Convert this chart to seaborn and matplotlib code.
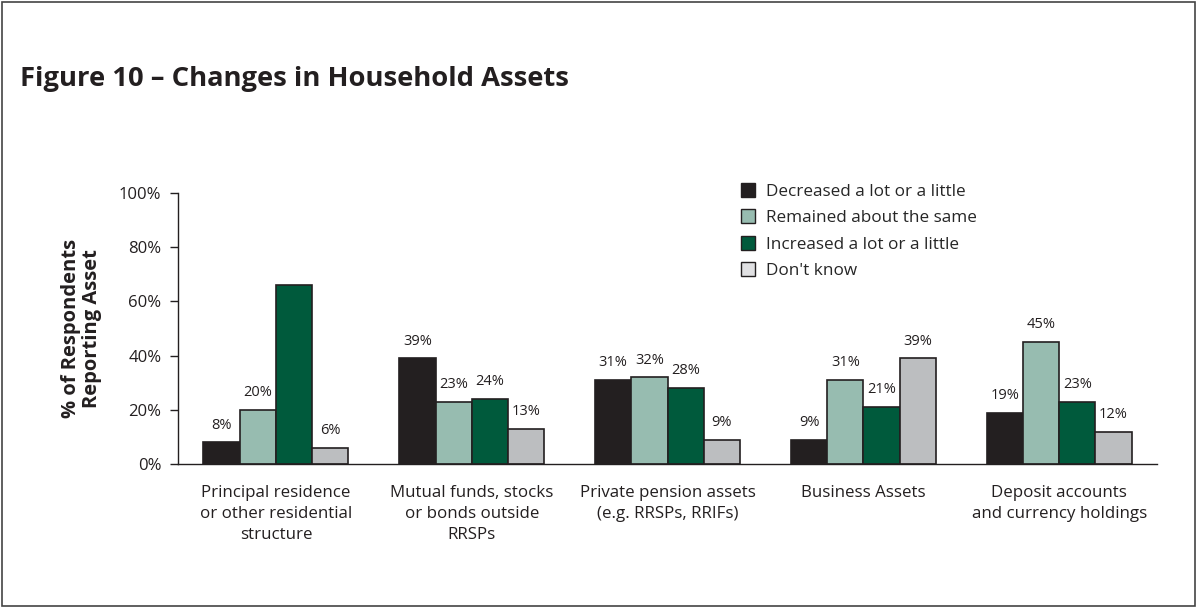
import matplotlib
matplotlib.use("Agg")
import matplotlib.pyplot as plt
import seaborn as sns
import pandas as pd
from matplotlib.lines import Line2D
from matplotlib.patches import Rectangle

categories = [
    "Principal residence\nor other residential\nstructure",
    "Mutual funds, stocks\nor bonds outside\nRRSPs",
    "Private pension assets\n(e.g. RRSPs, RRIFs)",
    "Business Assets",
    "Deposit accounts\nand currency holdings",
]
series = [
    "Decreased a lot or a little",
    "Remained about the same",
    "Increased a lot or a little",
    "Don't know",
]
decreased = [8, 39, 31, 9, 19]
same = [20, 23, 32, 31, 45]
increased = [66, 24, 28, 21, 23]
dont_know = [6, 13, 9, 39, 12]
# Value labels shown above each bar (the tall residence bar carries none)
show_label = [
    [True, True, True, True, True],
    [True, True, True, True, True],
    [False, True, True, True, True],
    [True, True, True, True, True],
]
yticks = [0, 20, 40, 60, 80, 100]

colors = ["#231f20", "#97bcb0", "#005a3c", "#bcbec0"]
edge = "#231f20"

sns.set_theme(style="white")
plt.rcParams["font.family"] = ["Open Sans", "DejaVu Sans"]

rows = []
for s, vals in zip(series, [decreased, same, increased, dont_know]):
    for c, v in zip(categories, vals):
        rows.append({"category": c, "series": s, "value": v})
df = pd.DataFrame(rows)

fig = plt.figure(figsize=(11.97, 6.08), dpi=100)
ax = fig.add_axes([0.1487, 0.2368, 0.8180, 0.4457])

sns.barplot(data=df, x="category", y="value", hue="series", order=categories,
            hue_order=series, palette=colors, width=0.74, saturation=1,
            edgecolor=edge, linewidth=1.2, ax=ax, legend=False)

for cont, vals, flags in zip(ax.containers, [decreased, same, increased, dont_know], show_label):
    labels = [f"{v}%" if f else "" for v, f in zip(vals, flags)]
    ax.bar_label(cont, labels=labels, padding=7, fontsize=10.5, color="#231f20")

ax.set_xlim(-0.5, len(categories) - 0.5)
ax.set_ylim(0, 100)
ax.set_yticks(yticks)
ax.set_yticklabels([f"{t}%" for t in yticks], fontsize=12, color="#231f20")
ax.set_xticks(range(len(categories)))
ax.set_xticklabels(categories, fontsize=12.2, color="#231f20", linespacing=1.42)
ax.set_xticks([i - 0.5 for i in range(len(categories) + 1)], minor=True)
ax.tick_params(axis="x", which="major", length=0, pad=15)
ax.tick_params(axis="x", which="minor", length=6, width=1, color=edge, direction="out")
ax.tick_params(axis="y", length=6, width=1, color=edge, direction="out", left=True, pad=6)
ax.set_xlabel("")
ax.set_ylabel("% of Respondents\nReporting Asset", fontsize=14.5, fontweight="bold",
              color="#231f20", labelpad=12, linespacing=1.05)

sns.despine(ax=ax)
for sp in ["left", "bottom"]:
    ax.spines[sp].set_color(edge)
    ax.spines[sp].set_linewidth(1)

handles = [Line2D([0], [0], marker="s", linestyle="none", markersize=9.5,
                  markerfacecolor=c if c != "#bcbec0" else "#e0e0e2",
                  markeredgecolor=edge, markeredgewidth=1) for c in colors]
ax.legend(handles, series, loc="upper left", bbox_to_anchor=(0.566, 1.06),
          frameon=False, fontsize=12.3, handletextpad=0.55, labelspacing=0.62,
          handlelength=1.0, borderaxespad=0)

fig.text(0.017, 0.87, "Figure 10 \u2013 Changes in Household Assets", fontsize=19.7,
         fontweight="bold", color="#231f20", ha="left", va="center")

fig.patches.append(Rectangle((0.002, 0.003), 0.996, 0.994, transform=fig.transFigure,
                             fill=False, edgecolor="#444444", linewidth=1.2))

fig.savefig("out.png", dpi=100)
